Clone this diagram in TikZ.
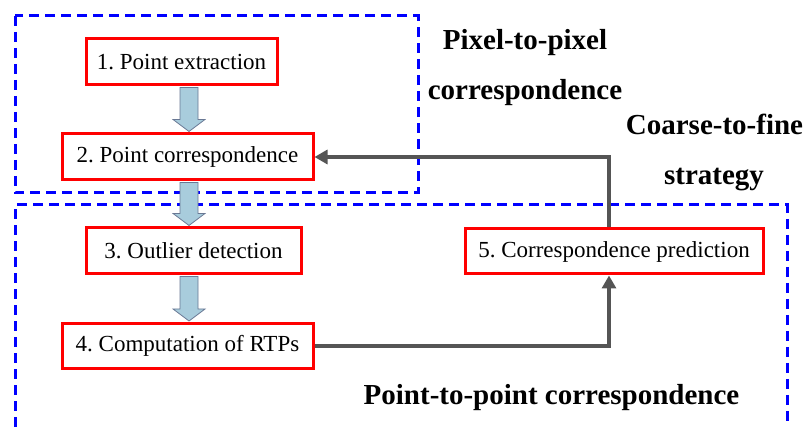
\documentclass[tikz,border=0pt]{standalone}
\usepackage{fontspec}
\setmainfont{Liberation Serif}
\usetikzlibrary{arrows.meta,calc}
\definecolor{dashblue}{RGB}{0,0,255}
\definecolor{boxred}{RGB}{255,0,0}
\definecolor{conngray}{RGB}{85,85,85}
\definecolor{arrowfill}{RGB}{168,204,220}
\definecolor{arrowedge}{RGB}{105,120,148}
\tikzset{
  stepbox/.style={draw=boxred, line width=3pt, fill=white, inner sep=0pt,
    font=\rmfamily\frenchspacing\fontsize{23}{27}\selectfont},
  groupbox/.style={draw=dashblue, line width=3pt, dash pattern=on 10pt off 6pt},
  conn/.style={draw=conngray, line width=3.2pt, -{Triangle[width=14pt,length=13pt]}},
  grouplabel/.style={font=\rmfamily\fontsize{29}{33}\selectfont\bfseries, anchor=base, inner sep=0pt},
  blockarr/.style={draw=arrowedge, fill=arrowfill, line width=0.8pt, line join=miter}
}
\newcommand\blockarrow[2]{%
  \path[blockarr] let \p1=(#1.south), \p2=(#2.north) in
    (180pt,\y1-1pt) -- (198pt,\y1-1pt) -- (198pt,\y2+13pt) -- (205pt,\y2+13pt)
    -- (189pt,\y2+1pt) -- (173pt,\y2+13pt) -- (180pt,\y2+13pt) -- cycle;}
\begin{document}
\begin{tikzpicture}[x=1pt,y=-1pt]
\useasboundingbox (0,0) rectangle (806,427);
% group boxes
\draw[groupbox] (15,16) rectangle (418,193);
\draw[groupbox] (15,427) -- (15,205) -- (787,205) -- (787,427);
% steps
\node[stepbox, minimum width=191pt, minimum height=46pt] (s1) at (181.5,62) {1. Point extraction};
\node[stepbox, minimum width=251pt, minimum height=46pt] (s2) at (187.5,157) {2. Point correspondence};
\node[stepbox, minimum width=215pt, minimum height=46pt] (s3) at (193.5,251) {3. Outlier detection};
\node[stepbox, minimum width=251pt, minimum height=45pt] (s4) at (187.5,346) {4. Computation of RTPs};
\node[stepbox, minimum width=298pt, minimum height=45pt] (s5) at (614,251.5) {5. Correspondence prediction};
% block arrows
\blockarrow{s1}{s2}
\blockarrow{s2}{s3}
\blockarrow{s3}{s4}
% gray connectors
\coordinate (c1) at ($(s5.south)+(-5,0)$);
\coordinate (c2) at ($(s5.north)+(-5,0)$);
\draw[conn] (s4.east) -| (c1);
\draw[conn] (c2) |- (s2.east);
% labels
\node[grouplabel] (l1) at (525,50) {Pixel-to-pixel};
\node[grouplabel] (l2) at (525,100) {correspondence};
\node[grouplabel] (l3) at (714.5,135) {Coarse-to-fine};
\node[grouplabel] (l4) at (714,185) {strategy};
\node[grouplabel] (l5) at (551.5,405) {Point-to-point correspondence};
\end{tikzpicture}
\end{document}
